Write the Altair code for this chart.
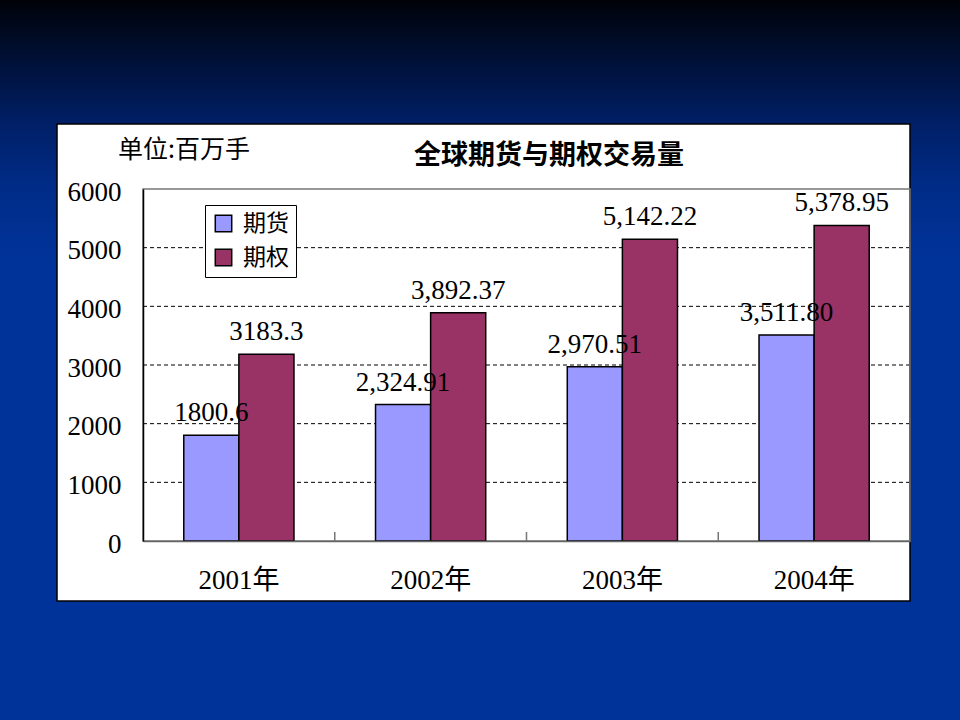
import altair as alt
import pandas as pd

# ---- data ----
categories = ["2001年", "2002年", "2003年", "2004年"]
series = ["期货", "期权"]
futures = [1800.6, 2324.91, 2970.51, 3511.80]
options = [3183.3, 3892.37, 5142.22, 5378.95]
futures_labels = ["1800.6", "2,324.91", "2,970.51", "3,511.80"]
options_labels = ["3183.3", "3,892.37", "5,142.22", "5,378.95"]
y_ticks = [0, 1000, 2000, 3000, 4000, 5000, 6000]
grid_values = [1000, 2000, 3000, 4000, 5000]
title_text = "全球期货与期权交易量"
unit_text = "单位:百万手"
colors = ["#9999FF", "#993366"]

rows = []
for i, c in enumerate(categories):
    rows.append({"cat": c, "series": series[0], "value": futures[i], "label": futures_labels[i]})
    rows.append({"cat": c, "series": series[1], "value": options[i], "label": options_labels[i]})
df = pd.DataFrame(rows)
grid_df = pd.DataFrame({"value": grid_values})
bound_df = pd.DataFrame({"cat": categories[1:]})
one = pd.DataFrame({"t": [title_text], "u": [unit_text]})

W, H = 767, 352
SERIF = "Liberation Serif, Noto Sans CJK SC"
CJK = "Noto Sans CJK SC"

yscale = alt.Scale(domain=[0, 6000], nice=False)
xscale = alt.Scale(domain=categories, paddingInner=0, paddingOuter=0)
xoff_scale = alt.Scale(domain=series, paddingInner=0, paddingOuter=0.74)

yaxis = alt.Axis(
    values=y_ticks, format="d", grid=False, ticks=False, title=None,
    domainColor="black", domainWidth=1.5,
    labelFont=SERIF, labelFontSize=27, labelColor="black", labelPadding=22,
    labelOffset=3, zindex=2,
)
xaxis = alt.Axis(
    grid=False, ticks=False, labelAngle=0, title=None,
    domainColor="#666666", domainWidth=1.5,
    labelFont=SERIF, labelFontSize=27, labelColor="black", labelPadding=26,
    labelBaseline="top", zindex=2,
)

grad = alt.Gradient(
    gradient="linear",
    stops=[
        alt.GradientStop(color="#000208", offset=0),
        alt.GradientStop(color="#001035", offset=0.08),
        alt.GradientStop(color="#001f66", offset=0.17),
        alt.GradientStop(color="#002c88", offset=0.26),
        alt.GradientStop(color="#003399", offset=0.36),
        alt.GradientStop(color="#003399", offset=1),
    ],
    x1=0, x2=0, y1=0, y2=1,
)

bg = alt.Chart(one).mark_rect(fill=grad, stroke=None).encode(
    x=alt.value(-143), x2=alt.value(817), y=alt.value(-189), y2=alt.value(531)
)
box = alt.Chart(one).mark_rect(fill="white", stroke="black", strokeWidth=1.5).encode(
    x=alt.value(-86), x2=alt.value(W), y=alt.value(-65), y2=alt.value(412)
)
border = alt.Chart(one).mark_rect(fill=None, stroke="#777777", strokeWidth=1.5).encode(
    x=alt.value(0), x2=alt.value(W), y=alt.value(0), y2=alt.value(H)
)
grid = alt.Chart(grid_df).mark_rule(color="black", strokeDash=[4, 3], strokeWidth=1).encode(
    y=alt.Y("value:Q", scale=yscale, axis=yaxis),
    x=alt.value(0), x2=alt.value(W),
)
bounds = alt.Chart(bound_df).mark_rule(color="#777777", strokeWidth=1.5).encode(
    x=alt.X("cat:N", scale=xscale, sort=categories, bandPosition=0, axis=xaxis),
    y=alt.value(H - 9), y2=alt.value(H),
)
bars = alt.Chart(df).mark_bar(stroke="black", strokeWidth=1.5).encode(
    x=alt.X("cat:N", scale=xscale, sort=categories, axis=xaxis),
    xOffset=alt.XOffset("series:N", scale=xoff_scale, sort=series),
    y=alt.Y("value:Q", scale=yscale, axis=yaxis),
    color=alt.Color(
        "series:N",
        scale=alt.Scale(domain=series, range=colors),
        sort=series,
        legend=alt.Legend(
            title=None, orient="none", legendX=62, legendY=16,
            fillColor="white", strokeColor="black", padding=7,
            symbolType="square", symbolSize=270, symbolStrokeColor="black",
            symbolStrokeWidth=1.5, symbolOpacity=1,
            labelFont=CJK, labelFontSize=23, labelColor="black",
            rowPadding=10, labelOffset=8, zindex=3,
        ),
    ),
)
labels = alt.Chart(df).mark_text(
    font=SERIF, fontSize=27, baseline="bottom", dy=-8, color="black"
).encode(
    x=alt.X("cat:N", scale=xscale, sort=categories, axis=xaxis),
    xOffset=alt.XOffset("series:N", scale=xoff_scale, sort=series),
    y=alt.Y("value:Q", scale=yscale, axis=yaxis),
    text="label:N",
)
title = alt.Chart(one).mark_text(
    font=CJK, fontSize=27, fontWeight="bold", color="black"
).encode(x=alt.value(406), y=alt.value(-33), text="t:N")
unit = alt.Chart(one).mark_text(
    font=CJK, fontSize=25, color="black"
).encode(x=alt.value(41), y=alt.value(-39), text="u:N")

chart = alt.layer(bg, box, grid, border, bars, bounds, labels, title, unit).properties(
    width=W, height=H,
    autosize=alt.AutoSizeParams(type="none"),
    padding={"left": 143, "top": 189, "right": 50, "bottom": 179},
).configure_view(stroke=None)

chart.save("out.html", embed_options={"renderer": "svg", "actions": False})
